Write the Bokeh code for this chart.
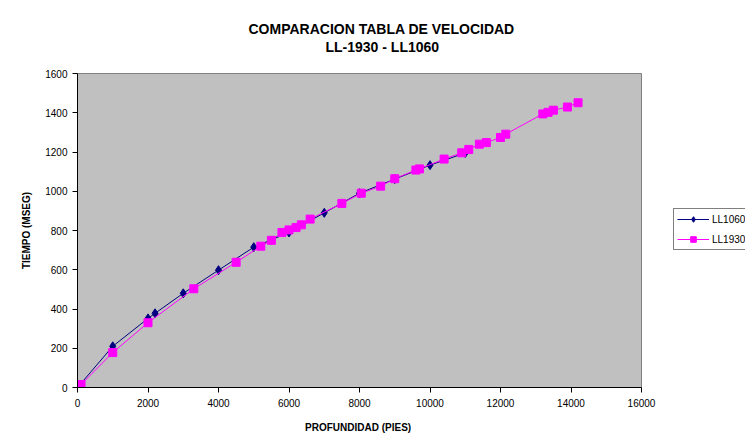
from bokeh.plotting import figure
from bokeh.models import Range1d, FixedTicker, Legend, LegendItem, Title
from bokeh.embed import file_html
from bokeh.resources import INLINE

# ---- data ----
ll1060_x = [0, 1000, 2000, 2200, 3000, 4000, 5000, 6000, 7000, 8000, 9000, 10000, 11000]
ll1060_y = [0, 210, 352, 378, 480, 598, 715, 790, 890, 990, 1062, 1133, 1195]

ll1930_x = [0, 100, 1000, 2000, 3300, 4500, 5200, 5500, 5800, 6000, 6200, 6350, 6600,
            7500, 8050, 8600, 9000, 9600, 9700, 10400, 10900, 11100, 11400, 11600,
            12000, 12150, 13200, 13350, 13500, 13900, 14200]
ll1930_y = [0, 15, 178, 330, 503, 638, 720, 750, 790, 803, 815, 829, 858,
            938, 990, 1026, 1064, 1108, 1114, 1164, 1196, 1213, 1240, 1248,
            1274, 1291, 1394, 1402, 1413, 1429, 1451]

x_ticks = [0, 2000, 4000, 6000, 8000, 10000, 12000, 14000, 16000]
y_ticks = [0, 200, 400, 600, 800, 1000, 1200, 1400, 1600]

title_lines = ["COMPARACION TABLA DE VELOCIDAD", "LL-1930 - LL1060"]
x_label = "PROFUNDIDAD  (PIES)"
y_label = "TIEMPO (MSEG)"
series_names = ["LL1060", "LL1930"]

FONT = "Liberation Sans"

# frame geometry in px
W, H = 745, 445
FL, FR, FT, FB = 77, 641, 73, 387

p = figure(frame_width=FR - FL, frame_height=FB - FT,
           output_backend="svg", toolbar_location=None,
           x_range=Range1d(0, 16000), y_range=Range1d(0, 1600),
           min_border_left=FL, min_border_right=W - FR,
           min_border_top=FT, min_border_bottom=H - FB,
           background_fill_color="#C0C0C0", border_fill_color="white")
p.title = None

p.outline_line_color = "#808080"
p.outline_line_width = 1
p.xgrid.visible = False
p.ygrid.visible = False

for ax in (p.xaxis[0], p.yaxis[0]):
    ax.axis_line_color = "black"
    ax.major_tick_line_color = "black"
    ax.minor_tick_line_color = None
    ax.major_tick_in = 0
    ax.major_tick_out = 5
    ax.major_label_text_font = FONT
    ax.major_label_text_font_size = "10px"
    ax.major_label_text_color = "black"
    ax.axis_label_text_font = FONT
    ax.axis_label_text_font_size = "10px"
    ax.axis_label_text_font_style = "bold"
    ax.axis_label_text_color = "black"

p.xaxis.ticker = FixedTicker(ticks=x_ticks)
p.yaxis.ticker = FixedTicker(ticks=y_ticks)
p.xaxis.axis_label = x_label
p.yaxis.axis_label = y_label
p.xaxis.major_label_standoff = 6
p.yaxis.major_label_standoff = 5
p.xaxis.axis_label_standoff = 12
p.yaxis.axis_label_standoff = 10

l1 = p.line(ll1060_x, ll1060_y, line_color="#000080", line_width=1)
s1 = p.scatter(ll1060_x, ll1060_y, marker="diamond", size=9,
               fill_color="#000080", line_color="#000080")
l2 = p.line(ll1930_x, ll1930_y, line_color="#FF00FF", line_width=1)
s2 = p.scatter(ll1930_x, ll1930_y, marker="square", size=8,
               fill_color="#FF00FF", line_color="#FF00FF")

# legend just right of the frame (box left edge at x=673, bottom at y=250)
legend = Legend(items=[LegendItem(label=series_names[0], renderers=[l1, s1]),
                       LegendItem(label=series_names[1], renderers=[l2, s2])],
                location=(673 - FR, FB - 250))
legend.label_text_font = FONT
legend.label_text_font_size = "10px"
legend.label_text_color = "black"
legend.border_line_color = "black"
legend.border_line_width = 1
legend.background_fill_color = "white"
legend.background_fill_alpha = 1
legend.glyph_width = 32
legend.glyph_height = 14
legend.label_height = 14
legend.label_standoff = 3
legend.spacing = 6
legend.padding = 3
legend.margin = 0
p.add_layout(legend, "right")

# titles (spacer nearest the frame, then line 2, then line 1), centred at x=382
p.add_layout(Title(text=" ", text_font_size="15px", standoff=0), "above")
p.add_layout(Title(text=title_lines[1], align="left", offset=382 - FL - 57,
                   text_font=FONT, text_font_size="14px", text_font_style="bold",
                   text_color="black", standoff=0), "above")
p.add_layout(Title(text=title_lines[0], align="left", offset=382 - FL - 134,
                   text_font=FONT, text_font_size="14px", text_font_style="bold",
                   text_color="black", standoff=0), "above")

open("out.html", "w").write(file_html(p, INLINE))
